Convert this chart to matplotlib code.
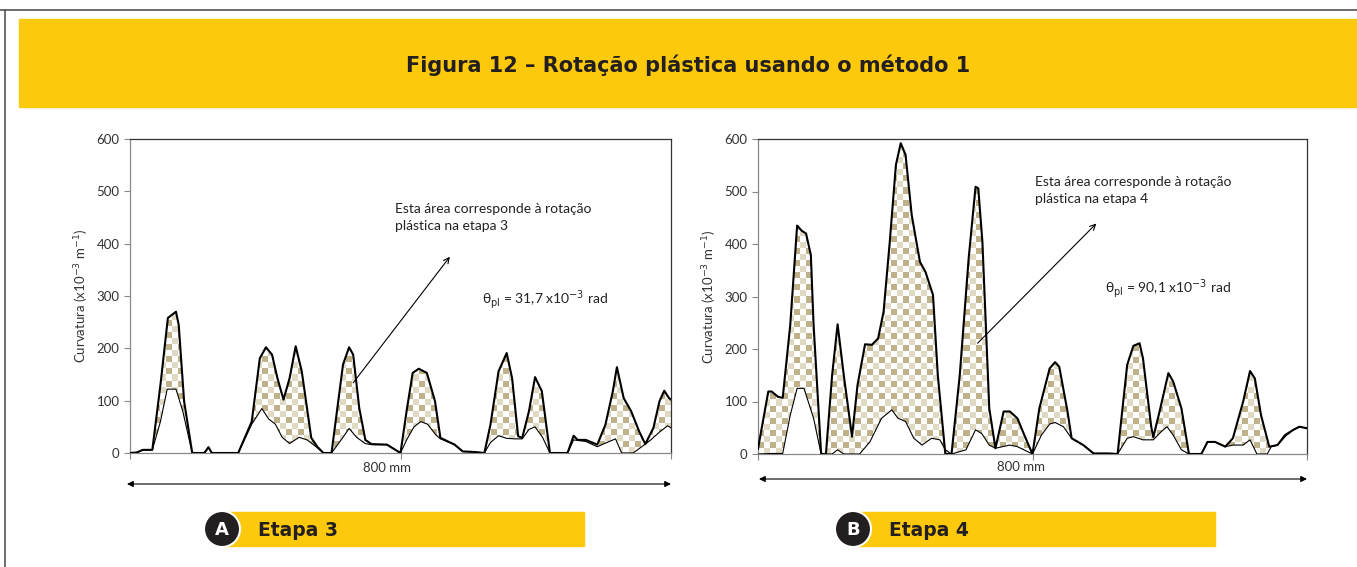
import numpy as np
import matplotlib
matplotlib.use("Agg")
import matplotlib.pyplot as plt
from matplotlib.patches import Polygon, Rectangle, Circle
from matplotlib.colors import to_rgb

plt.rcParams['font.family'] = ['Lato', 'DejaVu Sans']
plt.rcParams['mathtext.fontset'] = 'dejavusans'

# Etapa 3: curvatura total (curva superior) e elastica (curva inferior), x em mm
e3_sup_x = [0, 10, 19, 33, 45, 56, 68, 72, 80, 92, 110, 116, 121, 160, 180, 192, 201, 210, 218,
            227, 236, 245, 254, 268, 277, 286, 298, 315, 324, 330, 339, 348, 357, 380, 400, 409,
            418, 427, 439, 451, 459, 480, 492, 509, 524, 533, 545, 557, 565, 574, 580, 590, 599,
            609, 621, 647, 656, 662, 674, 691, 703, 714, 720, 730, 741, 753, 762, 774, 783, 790,
            797, 800]
e3_sup_y = [0, 1, 6, 6, 130, 258, 270, 245, 99, 0, 0, 11, 0, 0, 60, 181, 202, 188, 143,
            102, 143, 204, 156, 29, 12, 0, 0, 169, 202, 188, 86, 25, 17, 16, 0, 80,
            153, 161, 153, 99, 29, 16, 3, 2, 0, 54, 156, 191, 143, 32, 29, 80, 145,
            118, 0, 0, 33, 25, 25, 16, 54, 118, 164, 105, 80, 41, 17, 48, 99, 119,
            105, 102]
e3_inf_x = [0, 10, 19, 33, 45, 55, 68, 78, 92, 110, 116, 121, 160, 180, 195, 205, 215, 225, 236,
            250, 262, 275, 286, 298, 315, 324, 335, 348, 357, 380, 400, 409, 420, 430, 440, 452,
            459, 480, 492, 509, 524, 533, 545, 557, 570, 580, 590, 599, 610, 621, 647, 656, 674,
            691, 705, 718, 727, 744, 762, 770, 783, 795, 800]
e3_inf_y = [0, 1, 6, 6, 60, 122, 122, 80, 0, 0, 11, 0, 0, 55, 85, 65, 55, 30, 18,
            30, 25, 12, 0, 0, 30, 47, 30, 18, 16, 16, 0, 25, 50, 60, 55, 35,
            27, 16, 3, 2, 0, 20, 33, 28, 27, 27, 45, 50, 30, 0, 0, 25, 22,
            12, 20, 27, 0, 0, 17, 25, 40, 52, 48]

# Etapa 4
e4_sup_x = [0, 15, 20, 29, 36, 47, 57, 64, 70, 77, 81, 92, 99, 108, 116, 125, 137, 145, 156,
            166, 175, 183, 192, 201, 208, 215, 224, 236, 244, 255, 262, 273, 282, 294, 307, 317,
            321, 327, 337, 346, 358, 367, 378, 390, 400, 410, 425, 433, 439, 451, 457, 474, 489,
            512, 524, 538, 547, 556, 561, 573, 576, 585, 598, 605, 617, 628, 646, 655, 666, 681,
            692, 707, 717, 724, 733, 745, 757, 768, 780, 789, 800]
e4_sup_y = [10, 119, 119, 109, 107, 246, 435, 425, 420, 379, 246, 0, 0, 150, 247, 150, 33, 131, 209,
            208, 220, 271, 404, 551, 592, 570, 455, 366, 347, 303, 150, 0, 0, 150, 373, 509,
            506, 404, 87, 11, 81, 81, 68, 30, 0, 87, 163, 175, 166, 81, 30, 17, 1,
            1, 0, 170, 206, 211, 182, 52, 32, 80, 154, 138, 87, 0, 0, 23, 23, 14,
            30, 100, 158, 144, 74, 14, 17, 36, 46, 52, 49]
e4_inf_x = [0, 20, 36, 47, 57, 67, 81, 92, 108, 116, 125, 148, 163, 180, 195, 204, 215, 227, 239,
            253, 265, 273, 282, 303, 317, 326, 337, 346, 367, 378, 400, 413, 425, 433, 445, 457,
            474, 489, 512, 524, 538, 547, 561, 576, 588, 596, 605, 617, 628, 646, 655, 666, 681,
            692, 707, 717, 727, 742, 748, 757, 768, 780, 789, 800]
e4_inf_y = [0, 1, 1, 74, 125, 125, 68, 0, 0, 8, 0, 0, 23, 68, 84, 68, 62, 30, 17,
            30, 27, 8, 0, 8, 46, 39, 17, 11, 17, 14, 0, 36, 57, 60, 52, 30,
            17, 1, 1, 0, 30, 33, 27, 27, 43, 52, 36, 8, 0, 0, 23, 23, 14,
            17, 17, 27, 0, 0, 14, 17, 33, 46, 52, 49]

y_ticks = [0, 100, 200, 300, 400, 500, 600]
tan = '#bfb28b'
tan_light = '#e0d9c3'
amarelo = '#fdc90d'
escuro = '#231f20'
CELULA = 6  # lado do quadrado do padrao, em pixels


def xadrez(ncols, nrows):
    # padrao quadriculado: quadrados bege alternando com quadrados claros
    img = np.ones((nrows, ncols, 3))
    r, c = np.mgrid[0:nrows, 0:ncols]
    img[(r % 2 == 0) & (c % 2 == 0)] = to_rgb(tan)
    img[(r % 2 == 1) & (c % 2 == 1)] = to_rgb(tan_light)
    return img


def grafico(ax, sx, sy, ix, iy, texto, theta, pos_txt, seta, pos_theta):
    sx, sy, ix, iy = map(np.asarray, (sx, sy, ix, iy))
    pts = np.column_stack([np.r_[sx, ix[::-1]], np.r_[sy, iy[::-1]]])
    poly = Polygon(pts, closed=True, fc='none', ec='none', transform=ax.transData)
    ax.add_patch(poly)
    bbox = ax.get_position()
    w = bbox.width * fig.get_figwidth() * fig.dpi
    h = bbox.height * fig.get_figheight() * fig.dpi
    im = ax.imshow(xadrez(int(w / CELULA), int(h / CELULA)), extent=(0, 800, 0, 600),
                   aspect='auto', interpolation='nearest', zorder=1)
    im.set_clip_path(poly)
    ax.plot(sx, sy, color='black', lw=1.5, zorder=3)
    ax.plot(ix, iy, color='black', lw=0.8, zorder=3)
    ax.set_xlim(0, 800)
    ax.set_ylim(0, 600)
    ax.set_yticks(y_ticks)
    ax.set_xticks([0, 400, 800])
    ax.set_xticklabels([])
    ax.tick_params(axis='both', direction='out', length=4, color='#888888',
                   labelsize=9.5, labelcolor='#333333')
    for s in ['left', 'bottom']:
        ax.spines[s].set_color('#888888')
    for s in ['top', 'right']:
        ax.spines[s].set_color('#333333')
    for s in ax.spines.values():
        s.set_linewidth(0.9)
    ax.set_ylabel('Curvatura (x10$^{-3}$ m$^{-1}$)', fontsize=9.5, color='#333333', labelpad=4)
    ax.text(pos_txt[0], pos_txt[1], texto, fontsize=10, color='#222222', va='top',
            linespacing=1.5)
    ax.annotate('', xy=seta[1], xytext=seta[0],
                arrowprops=dict(arrowstyle='->', color='black', lw=0.8, shrinkA=0, shrinkB=0))
    ax.text(pos_theta[0], pos_theta[1], theta, fontsize=10, color='#222222', va='center')


fig = plt.figure(figsize=(13.57, 5.67), dpi=100)

# camada de fundo: moldura, faixa do titulo e rotulos das etapas
bg = fig.add_axes([0, 0, 1, 1], zorder=-1)
bg.set_xlim(0, 1357)
bg.set_ylim(567, 0)
bg.axis('off')
bg.plot([0, 1357], [10, 10], color='#555555', lw=1.2)
bg.plot([5, 5], [10, 567], color='#555555', lw=1.2)
bg.add_patch(Rectangle((19, 19), 1338, 88, color=amarelo))
bg.text(688, 65, 'Figura 12 – Rotação plástica usando o método 1', fontsize=15,
        fontweight='bold', color=escuro, ha='center', va='center', family='DejaVu Sans')

for cx, letra, etapa in [(222, 'A', 'Etapa 3'), (853, 'B', 'Etapa 4')]:
    bg.add_patch(Rectangle((cx, 512), 362, 34, color=amarelo))
    bg.add_patch(Circle((cx, 529), 18, fc=escuro, ec='white', lw=1.5, zorder=3))
    bg.text(cx, 530, letra, fontsize=13, fontweight='bold', color='white',
            ha='center', va='center', zorder=4, family='DejaVu Sans')
    bg.text(cx + 36, 530, etapa, fontsize=13.5, fontweight='bold', color=escuro,
            ha='left', va='center', family='DejaVu Sans')

for x0, x1, y, ytxt in [(127, 671, 484, 468), (759, 1307, 479, 467)]:
    bg.annotate('', xy=(x1, y), xytext=(x0, y),
                arrowprops=dict(arrowstyle='<|-|>', color='black', lw=0.8,
                                mutation_scale=9, shrinkA=0, shrinkB=0))
    bg.text((x0 + x1) / 2 - 12, ytxt, '800 mm', fontsize=9.5, color='#333333',
            ha='center', va='center')

ax1 = fig.add_axes([130 / 1357, 1 - 453 / 567, 541 / 1357, 314 / 567])
grafico(ax1, e3_sup_x, e3_sup_y, e3_inf_x, e3_inf_y,
        'Esta área corresponde à rotação\nplástica na etapa 3',
        r'θ$_{\mathrm{pl}}$ = 31,7 x10$^{-3}$ rad',
        (392, 478), ((330, 134), (473, 375)), (521, 293))

ax2 = fig.add_axes([758 / 1357, 1 - 454 / 567, 549 / 1357, 315 / 567])
grafico(ax2, e4_sup_x, e4_sup_y, e4_inf_x, e4_inf_y,
        'Esta área corresponde à rotação\nplástica na etapa 4',
        r'θ$_{\mathrm{pl}}$ = 90,1 x10$^{-3}$ rad',
        (403, 530), ((320, 211), (493, 439)), (506, 316))

fig.savefig('out.png', dpi=100)
